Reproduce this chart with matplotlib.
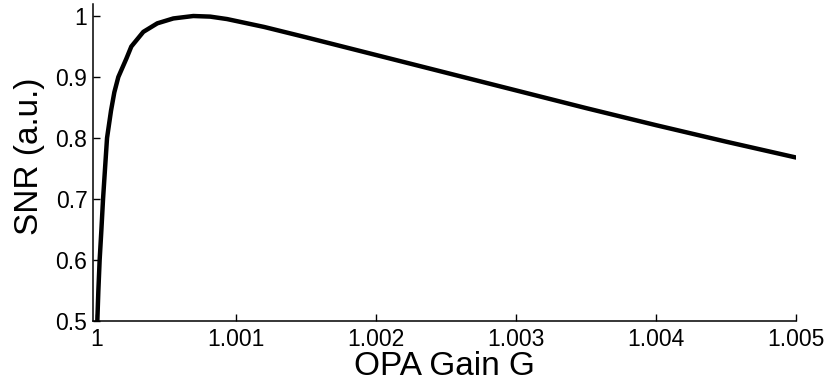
import numpy as np
import matplotlib
matplotlib.use('Agg')
import matplotlib.pyplot as plt

plt.rcParams['font.family'] = ['Liberation Sans', 'DejaVu Sans']

# OPA gain and normalised SNR
gain = [1.0000071, 1.0000143, 1.0000236, 1.0000357, 1.0000479, 1.0000621,
        1.0000764, 1.000105, 1.0001286, 1.0001571, 1.0002143, 1.00025,
        1.0003357, 1.0004357, 1.00055, 1.000693, 1.000814, 1.000934,
        1.0012, 1.0015, 1.002, 1.0025, 1.003, 1.0035, 1.004, 1.0045, 1.005]
snr = [0.50, 0.549, 0.60, 0.648, 0.70, 0.75,
       0.80, 0.845, 0.875, 0.90, 0.93, 0.95,
       0.974, 0.988, 0.996, 1.0, 0.999, 0.995,
       0.982, 0.965, 0.936, 0.907, 0.878, 0.849, 0.821, 0.794, 0.768]

xticks = [1.0, 1.001, 1.002, 1.003, 1.004, 1.005]
xticklabels = ['1', '1.001', '1.002', '1.003', '1.004', '1.005']
yticks = [0.5, 0.6, 0.7, 0.8, 0.9, 1.0]
yticklabels = ['0.5', '0.6', '0.7', '0.8', '0.9', '1']

fig = plt.figure(figsize=(8.28, 3.88), dpi=100)
ax = fig.add_axes([0.1123, 0.1727, 0.8491, 0.8170])

ax.plot(gain, snr, color='black', linewidth=3.2, solid_capstyle='round',
        solid_joinstyle='round')

ax.set_xlim(0.999976, 1.005)
ax.set_ylim(0.5, 1.0197)
ax.set_xticks(xticks)
ax.set_xticklabels(xticklabels)
ax.set_yticks(yticks)
ax.set_yticklabels(yticklabels)

for side in ['top', 'right']:
    ax.spines[side].set_visible(False)
for side in ['left', 'bottom']:
    ax.spines[side].set_linewidth(1.1)

ax.tick_params(direction='in', length=5, width=1, labelsize=16.5)
ax.tick_params(axis='x', pad=5)
ax.tick_params(axis='y', pad=4)

ax.set_xlabel('OPA Gain G', fontsize=24, labelpad=0)
ax.set_ylabel('SNR (a.u.)', fontsize=24)
ax.yaxis.set_label_coords(-0.068, 0.52)

plt.savefig('out.png', dpi=100)
